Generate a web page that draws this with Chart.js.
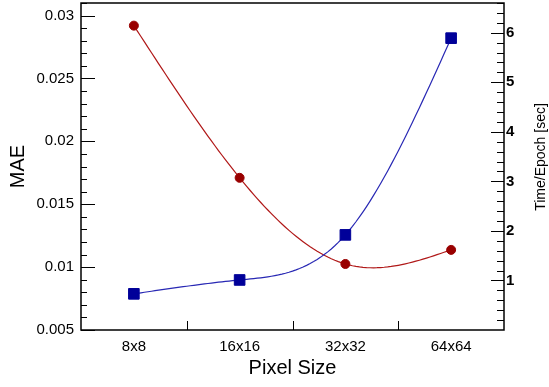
<!DOCTYPE html>
<html>
<head>
<meta charset="utf-8">
<script src="https://cdn.jsdelivr.net/npm/chart.js@4"></script>
<style>
  html, body { margin: 0; padding: 0; background: #fff; }
  #wrap { width: 549px; height: 387px; }
</style>
</head>
<body>
<div id="wrap"><canvas id="chart"></canvas></div>
<script>
// categories and series
const pixelSizes = ['8x8', '16x16', '32x32', '64x64'];
const maeValues = [0.0292, 0.0171, 0.01025, 0.01137];
const timeValues = [0.73, 1.01, 1.92, 5.89];

// tick labels
const maeTicks = [0.005, 0.01, 0.015, 0.02, 0.025, 0.03];
const timeTicks = [1, 2, 3, 4, 5, 6];

const FONT = '"Liberation Sans", Arial, Helvetica, sans-serif';

// natural cubic spline second derivatives (pixel space)
function splineM(ys) {
  const n = ys.length;
  const M = new Array(n).fill(0);
  if (n < 3) return M;
  const a = [], b = [], c = [], d = [];
  for (let i = 1; i < n - 1; i++) {
    a.push(1); b.push(4); c.push(1);
    d.push(6 * (ys[i - 1] - 2 * ys[i] + ys[i + 1]));
  }
  const m = d.length;
  for (let i = 1; i < m; i++) {
    const w = a[i] / b[i - 1];
    b[i] -= w * c[i - 1];
    d[i] -= w * d[i - 1];
  }
  const sol = new Array(m);
  sol[m - 1] = d[m - 1] / b[m - 1];
  for (let i = m - 2; i >= 0; i--) sol[i] = (d[i] - c[i] * sol[i + 1]) / b[i];
  for (let i = 0; i < m; i++) M[i + 1] = sol[i];
  return M;
}

// smooth lines through the points, drawn before the markers
const splineLines = {
  id: 'splineLines',
  beforeDatasetsDraw(chart) {
    const ctx = chart.ctx;
    const a = chart.chartArea;
    ctx.save();
    ctx.beginPath();
    ctx.rect(a.left, a.top, a.right - a.left, a.bottom - a.top);
    ctx.clip();
    chart.data.datasets.forEach((ds, k) => {
      const meta = chart.getDatasetMeta(k);
      const pts = meta.data.map(p => ({ x: p.x, y: p.y }));
      const M = splineM(pts.map(p => p.y));
      ctx.strokeStyle = ds.lineColor;
      ctx.lineWidth = 1.2;
      ctx.beginPath();
      ctx.moveTo(pts[0].x, pts[0].y);
      for (let i = 0; i < pts.length - 1; i++) {
        for (let s = 1; s <= 30; s++) {
          const t = s / 30, u = 1 - t;
          const px = pts[i].x + (pts[i + 1].x - pts[i].x) * t;
          const py = u * pts[i].y + t * pts[i + 1].y +
            ((u * u * u - u) * M[i] + (t * t * t - t) * M[i + 1]) / 6;
          ctx.lineTo(px, py);
        }
      }
      ctx.stroke();
    });
    ctx.restore();
  }
};

// inward tick marks + right axis title (reads bottom to top)
const frameTicks = {
  id: 'frameTicks',
  afterDraw(chart) {
    const ctx = chart.ctx;
    const a = chart.chartArea;
    const y1 = chart.scales.y;
    const y2 = chart.scales.y2;
    const x = chart.scales.x;
    ctx.save();
    ctx.strokeStyle = '#000';
    ctx.lineWidth = 1;

    // left axis: majors every 0.005, minors every 0.001
    for (let i = 5; i <= 31; i++) {
      const py = Math.round(y1.getPixelForValue(i / 1000)) + 0.5;
      const len = (i % 5 === 0) ? 14 : 6;
      ctx.beginPath();
      ctx.moveTo(a.left, py);
      ctx.lineTo(a.left + len, py);
      ctx.stroke();
    }
    // right axis: majors every 1, minors every 0.2
    for (let i = 1; i <= 33; i++) {
      const py = Math.round(y2.getPixelForValue(i / 5)) + 0.5;
      const len = (i % 5 === 0) ? 13 : 7;
      ctx.beginPath();
      ctx.moveTo(a.right, py);
      ctx.lineTo(a.right - len, py);
      ctx.stroke();
    }
    // x axis: ticks between categories
    for (let i = 0; i < pixelSizes.length - 1; i++) {
      const px = Math.round((x.getPixelForValue(i) + x.getPixelForValue(i + 1)) / 2) + 0.5;
      ctx.beginPath();
      ctx.moveTo(px, a.bottom);
      ctx.lineTo(px, a.bottom - 9);
      ctx.stroke();
    }

    // frame
    ctx.lineWidth = 1.5;
    ctx.strokeRect(a.left, a.top, a.right - a.left, a.bottom - a.top);

    // right title
    ctx.fillStyle = '#000';
    ctx.font = '14px ' + FONT;
    ctx.textAlign = 'center';
    ctx.textBaseline = 'middle';
    ctx.translate(541, 157);
    ctx.rotate(-Math.PI / 2);
    ctx.fillText('Time/Epoch [sec]', 0, 0);
    ctx.restore();
  }
};

function noPad(scale) {
  scale.paddingTop = 0;
  scale.paddingBottom = 0;
  scale.paddingLeft = 0;
  scale.paddingRight = 0;
}

new Chart(document.getElementById('chart'), {
  type: 'line',
  data: {
    labels: pixelSizes,
    datasets: [
      {
        label: 'MAE',
        data: maeValues,
        yAxisID: 'y',
        showLine: false,
        lineColor: '#b01818',
        borderColor: '#990000',
        backgroundColor: '#990000',
        pointStyle: 'circle',
        pointRadius: 4.5
      },
      {
        label: 'Time/Epoch',
        data: timeValues,
        yAxisID: 'y2',
        showLine: false,
        lineColor: '#2828b4',
        borderColor: '#000099',
        backgroundColor: '#000099',
        pointStyle: 'rect',
        pointRadius: 7.5
      }
    ]
  },
  options: {
    responsive: true,
    maintainAspectRatio: false,
    animation: false,
    layout: { autoPadding: false, padding: { top: 3, left: 0, right: 0, bottom: 0 } },
    plugins: {
      legend: { display: false },
      tooltip: { enabled: false }
    },
    scales: {
      x: {
        offset: true,
        grid: { display: false, drawTicks: false },
        border: { display: false },
        ticks: { color: '#000', font: { family: FONT, size: 15 }, padding: 8, maxRotation: 0 },
        title: { display: true, text: 'Pixel Size', color: '#000', font: { family: FONT, size: 20 }, padding: { top: 0, bottom: 7 } },
        afterFit(scale) { scale.height = 57; noPad(scale); }
      },
      y: {
        position: 'left',
        min: 0.005,
        max: 0.031,
        grid: { display: false, drawTicks: false },
        border: { display: false },
        afterBuildTicks(scale) { scale.ticks = maeTicks.map(v => ({ value: v })); },
        ticks: {
          color: '#000',
          font: { family: FONT, size: 15 },
          padding: 7,
          callback: v => String(v)
        },
        title: { display: true, text: 'MAE', color: '#000', font: { family: FONT, size: 20 }, padding: { top: 6, bottom: 0 } },
        afterFit(scale) { scale.width = 81; noPad(scale); }
      },
      y2: {
        position: 'right',
        min: 0,
        max: 6.6,
        grid: { display: false, drawTicks: false },
        border: { display: false },
        afterBuildTicks(scale) { scale.ticks = timeTicks.map(v => ({ value: v })); },
        ticks: {
          color: '#000',
          font: { family: FONT, size: 15, weight: 'bold' },
          padding: 2,
          callback: v => String(v)
        },
        afterFit(scale) { scale.width = 45; noPad(scale); }
      }
    }
  },
  plugins: [splineLines, frameTicks]
});
</script>
</body>
</html>
